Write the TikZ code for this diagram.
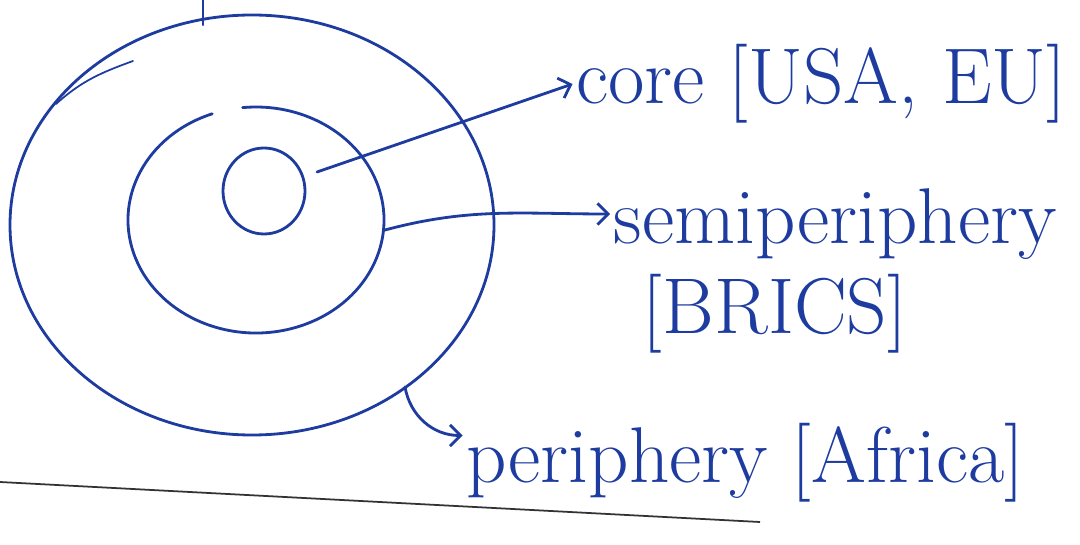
\documentclass[tikz,border=0pt]{standalone}
\usepackage{tikz}
\usetikzlibrary{arrows.meta, calc}
\definecolor{penblue}{RGB}{30,60,160}
\tikzset{
  ink/.style={draw=penblue, line width=1.6pt, line cap=round},
  lbl/.style={text=penblue, font=\fontsize{45}{52}\selectfont, inner sep=2pt},
}

\begin{document}
\begin{tikzpicture}

  \useasboundingbox (0,0) rectangle (21.6,10.88);

  % rings
  \coordinate (O) at (5.04,6.38);
  \coordinate (S) at (5.12,6.48);
  \coordinate (C) at (5.28,7.06);

  \draw[ink] (O) ellipse (4.84 and 4.2);
  \draw[ink] ($ (S)+(110:2.56 and 2.26) $) arc[start angle=110, end angle=456, x radius=2.56, y radius=2.26];
  \draw[ink] (C) ellipse (0.82 and 0.86);

  % stray strokes
  \draw[ink, line width=1.2pt] (4.06,10.88) -- (4.06,10.38);
  \draw[ink, line width=1pt] (1.12,8.80) to[out=42,in=200] (2.66,9.66);

  % start points of the pointers
  \coordinate (fromcore) at (6.34,7.44);
  \coordinate (fromsemi) at (7.70,6.28);
  \coordinate (fromperi) at (8.10,3.14);

  % labels
  \node[lbl, anchor=west] (lblcore) at (11.45,9.2) {core [USA, EU]};
  \node[lbl, anchor=west] (lblsemi) at (12.2,6.4) {semiperiphery};
  \node[lbl] (lblbrics) at (15.5,4.6) {[BRICS]};
  \node[lbl, anchor=west] (lblperi) at (9.25,1.62) {periphery [Africa]};

  % pointers
  \draw[ink, -{Straight Barb[length=6pt]}] (fromcore) -- (lblcore.west);
  \draw[ink, -{Straight Barb[length=6pt]}] (fromsemi) to[out=15,in=180] ($ (lblsemi.west)+(0,0.2) $);
  \draw[ink, -{Straight Barb[length=6pt]}] (fromperi) to[out=-80,in=180] ($ (lblperi.west)+(0,0.55) $);

  % edge of the page
  \draw[black!80, line width=1pt] (0,1.24) -- (15.2,0.44);

\end{tikzpicture}
\end{document}
